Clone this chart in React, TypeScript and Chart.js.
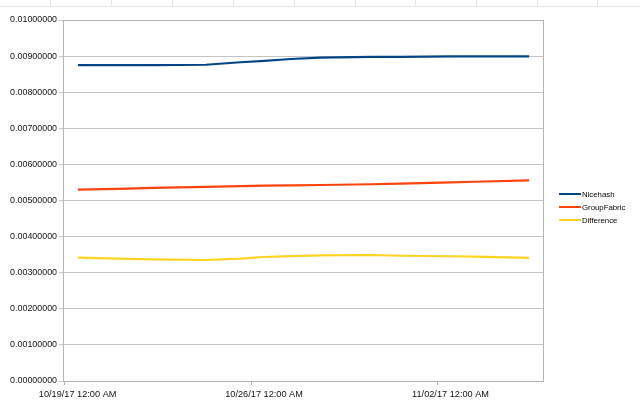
import React, { useEffect, useRef } from "react";
import { Chart, registerables } from "chart.js";

Chart.register(...registerables);

// Days since 10/19/17 12:00 AM
const dayOffsets = [0.5, 2, 3.3, 5.3, 6.6, 7.5, 8.5, 9.6, 11.5, 12.6, 14.5, 15.4, 17.44];
const nicehash = [0.00875, 0.00875, 0.00875, 0.00876, 0.00883, 0.00887, 0.00892, 0.00896, 0.00898, 0.00898, 0.00899, 0.00899, 0.00899];
const groupFabric = [0.0053, 0.00532, 0.00535, 0.00538, 0.0054, 0.00541, 0.00542, 0.00543, 0.00545, 0.00547, 0.0055, 0.00552, 0.00556];
const difference = [0.003415, 0.00339, 0.00337, 0.003352, 0.00339, 0.003435, 0.00346, 0.00348, 0.00349, 0.00347, 0.003455, 0.003445, 0.00341];

const seriesNames = ["Nicehash", "GroupFabric", "Difference"];
const seriesColors = ["#004586", "#ff420e", "#ffd320"];
const xTickDays = [0, 7, 14];
const xTickLabels = ["10/19/17 12:00 AM", "10/26/17 12:00 AM", "11/02/17 12:00 AM"];

const FONT = "'Liberation Sans', Arial, sans-serif";

const decoPlugin = {
  id: "deco",
  beforeDraw(chart: any) {
    const ctx = chart.ctx;
    ctx.save();
    ctx.fillStyle = "#ffffff";
    ctx.fillRect(0, 0, chart.width, chart.height);
    // spreadsheet cell lines at the top
    ctx.strokeStyle = "#e3e3e3";
    ctx.lineWidth = 1;
    ctx.beginPath();
    ctx.moveTo(0, 6.5);
    ctx.lineTo(chart.width, 6.5);
    const cols = [50, 111, 172, 233, 294, 355, 415, 476, 537, 597];
    cols.forEach((c) => {
      ctx.moveTo(c + 0.5, 0);
      ctx.lineTo(c + 0.5, 6.5);
    });
    ctx.stroke();
    ctx.restore();
  },
  afterDraw(chart: any) {
    const ctx = chart.ctx;
    const ca = chart.chartArea;
    ctx.save();
    // plot border box
    ctx.strokeStyle = "#b3b3b3";
    ctx.lineWidth = 1;
    ctx.strokeRect(Math.round(ca.left) + 0.5, Math.round(ca.top) + 0.5, Math.round(ca.right - ca.left), Math.round(ca.bottom - ca.top));
    // legend
    const ds = chart.data.datasets;
    const cy = (ca.top + ca.bottom) / 2 + 6.5;
    ctx.font = "7.8px " + FONT;
    ctx.textBaseline = "middle";
    ctx.fillStyle = "#000";
    ds.forEach((d: any, i: number) => {
      const y = Math.round(cy + (i - 1) * 13.3);
      ctx.strokeStyle = d.borderColor;
      ctx.lineWidth = 2;
      ctx.beginPath();
      ctx.moveTo(ca.right + 16, y);
      ctx.lineTo(ca.right + 38, y);
      ctx.stroke();
      ctx.fillStyle = "#000";
      ctx.fillText(d.label, ca.right + 39, y + 0.5);
    });
    ctx.restore();
  },
};

export default function App() {
  const ref = useRef<HTMLCanvasElement>(null);
  useEffect(() => {
    if (!ref.current) return;
    const series = [nicehash, groupFabric, difference];
    const chart = new Chart(ref.current, {
      type: "line",
      data: {
        datasets: series.map((vals, i) => ({
          label: seriesNames[i],
          data: vals.map((v, j) => ({ x: dayOffsets[j], y: v })),
          borderColor: seriesColors[i],
          backgroundColor: seriesColors[i],
          borderWidth: 2.2,
          pointRadius: 0,
          tension: 0,
          fill: false,
        })),
      },
      options: {
        animation: false,
        responsive: true,
        maintainAspectRatio: false,
        layout: { padding: { top: 20, right: 97, left: 0, bottom: 0 } },
        plugins: { legend: { display: false }, tooltip: { enabled: false } },
        scales: {
          x: {
            type: "linear",
            min: -0.06,
            max: 17.96,
            afterBuildTicks: (s: any) => {
              s.ticks = xTickDays.map((v) => ({ value: v }));
            },
            afterFit: (s: any) => {
              s.height = 22;
            },
            grid: { drawOnChartArea: false, drawTicks: true, tickLength: 4, color: "#b3b3b3" },
            border: { color: "#b3b3b3" },
            ticks: {
              autoSkip: false,
              maxRotation: 0,
              labelOffset: 13,
              padding: 4,
              color: "#111",
              font: { family: FONT, size: 9.2 },
              callback: (v: any) => {
                const idx = xTickDays.indexOf(Number(v));
                return idx >= 0 ? xTickLabels[idx] : "";
              },
            },
          },
          y: {
            min: 0,
            max: 0.01,
            afterFit: (s: any) => {
              s.width = 63;
            },
            grid: { color: "#c4c4c4", tickLength: 4 },
            border: { color: "#b3b3b3" },
            ticks: {
              stepSize: 0.001,
              padding: 2,
              color: "#111",
              font: { family: FONT, size: 8.9 },
              callback: (v: any) => Number(v).toFixed(8),
            },
          },
        },
      },
      plugins: [decoPlugin],
    });
    return () => chart.destroy();
  }, []);
  return (
    <div style={{ position: "fixed", left: 0, top: 0, width: 640, height: 403, background: "#fff" }}>
      <canvas ref={ref} />
    </div>
  );
}
